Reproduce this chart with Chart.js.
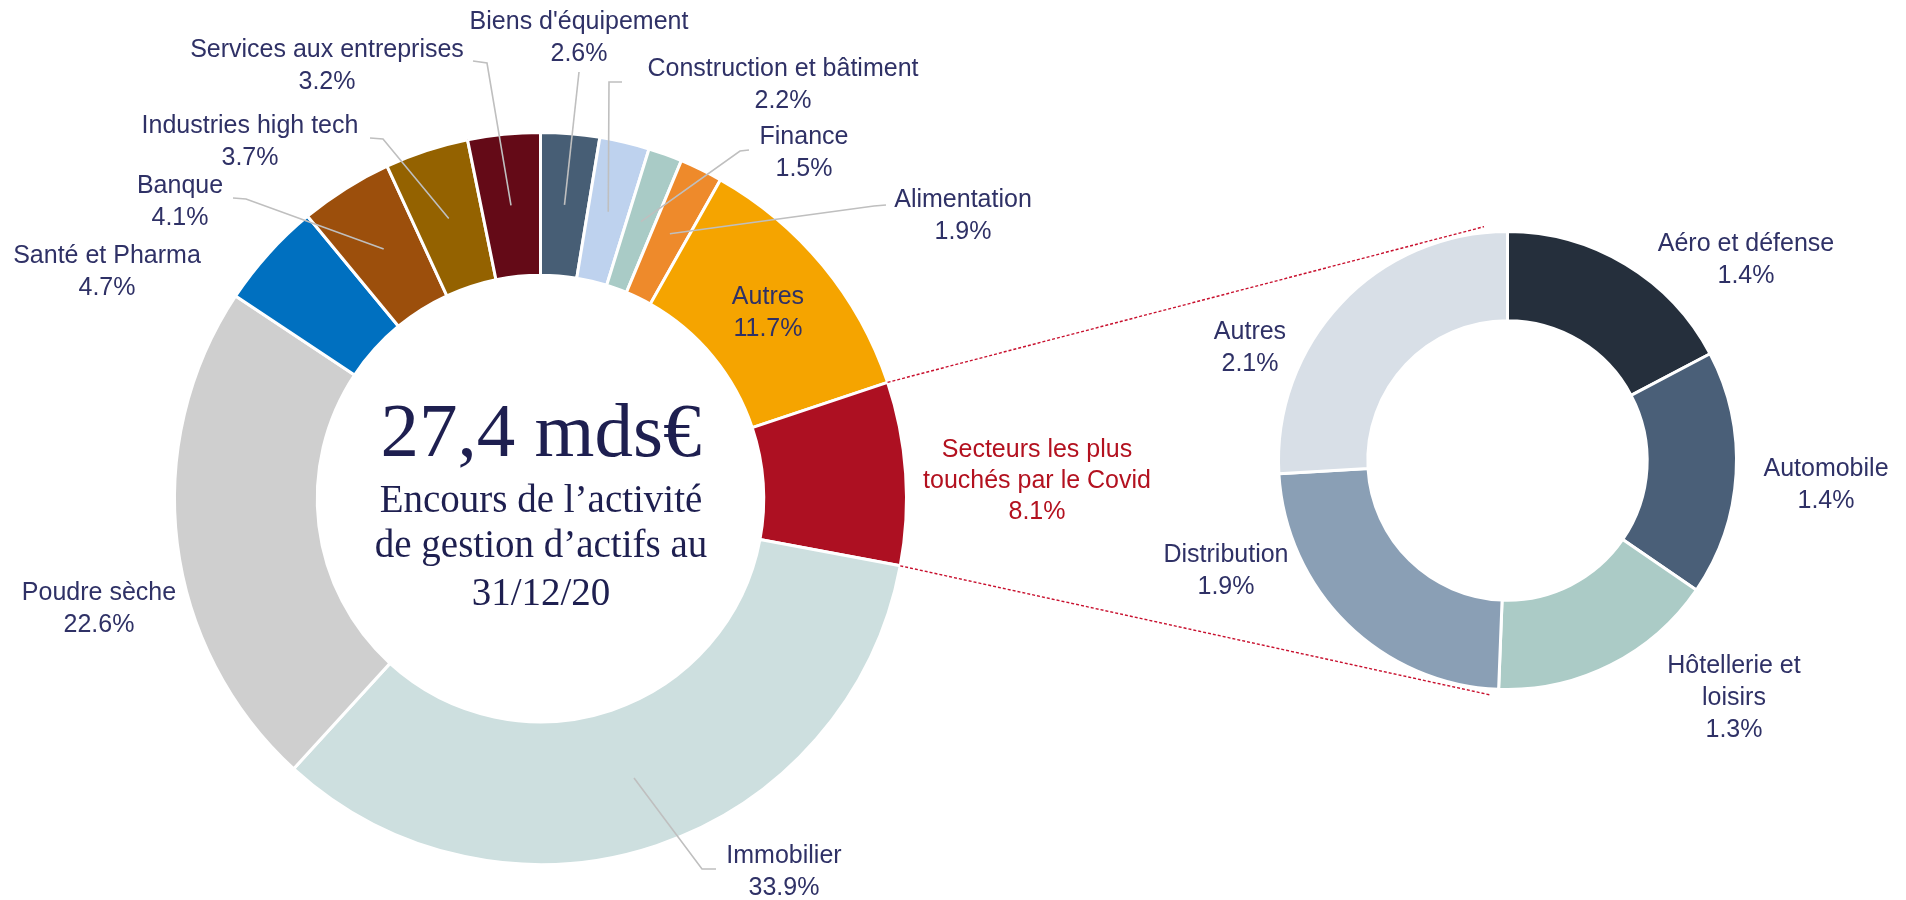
<!DOCTYPE html>
<html lang="fr">
<head>
  <meta charset="UTF-8">
  <title>Encours de l'activité de gestion d'actifs au 31/12/20</title>
  <script src="https://cdn.jsdelivr.net/npm/chart.js"></script>
  <style>
    html, body { margin: 0; padding: 0; background: #fff; }
    body {
      width: 1906px; height: 900px; position: relative; overflow: hidden;
      font-family: 'Liberation Sans', Arial, sans-serif;
    }
    canvas { position: absolute; left: 0; top: 0; }
    .lbl {
      position: absolute; transform: translateX(-50%); text-align: center;
      font-size: 25px; line-height: 32px; color: #2f3166; white-space: nowrap;
    }
    .lbl.wrap { white-space: normal; }
    .lbl.covid { color: #b3111f; line-height: 31px; }
    .center {
      position: absolute; left: 541px; transform: translateX(-50%);
      font-family: 'Liberation Serif', 'DejaVu Serif', serif; color: #1e1f50; white-space: nowrap;
    }
  </style>
</head>
<body>

  <canvas id="mainChart" width="1906" height="900"></canvas>
  <canvas id="zoomChart" width="1906" height="900"></canvas>
  <div id="labels"></div>

  <!-- texte central -->
  <div class="center" style="top:392px; font-size:77px; line-height:77px;">27,4 mds€</div>
  <div class="center" style="top:479px; font-size:39px; line-height:39px;">Encours de l’activité</div>
  <div class="center" style="top:524px; font-size:39px; line-height:39px;">de gestion d’actifs au</div>
  <div class="center" style="top:572px; font-size:39px; line-height:39px;">31/12/20</div>

  <script>
    // donut principal, sens horaire depuis midi
    const mainLabels = ["Biens d'équipement", "Construction et bâtiment", "Finance", "Alimentation", "Autres",
      "Secteurs les plus touchés par le Covid", "Immobilier", "Poudre sèche", "Santé et Pharma", "Banque",
      "Industries high tech", "Services aux entreprises"];
    const mainValues = [2.6, 2.2, 1.5, 1.9, 11.7, 8.1, 33.9, 22.6, 4.7, 4.1, 3.7, 3.2];
    const mainColors = ['#475e75', '#bed2ee', '#a9cbc6', '#ee8a2b', '#f5a400', '#ad1022',
      '#cddfdf', '#cfcfcf', '#0070c0', '#9c4f0c', '#946200', '#640a17'];

    // détail des secteurs les plus touchés
    const zoomLabels = ["Aéro et défense", "Automobile", "Hôtellerie et loisirs", "Distribution", "Autres"];
    const zoomValues = [1.4, 1.4, 1.3, 1.9, 2.1];
    const zoomColors = ['#252f3c', '#4a5f78', '#abcbc6', '#8a9fb5', '#d8dfe7'];

    const COVID = 5;

    // placement des étiquettes (x du centre, haut du bloc)
    const mainLabelPos = [
      { i: 0, x: 579, y: 4 }, { i: 1, x: 783, y: 51 }, { i: 2, x: 804, y: 119 },
      { i: 3, x: 963, y: 182 }, { i: 4, x: 768, y: 279 },
      { i: 5, x: 1037, y: 433, w: 262, cls: 'covid wrap' },
      { i: 6, x: 784, y: 838 }, { i: 7, x: 99, y: 575 }, { i: 8, x: 107, y: 238 },
      { i: 9, x: 180, y: 168 }, { i: 10, x: 250, y: 108 }, { i: 11, x: 327, y: 32 }
    ];
    const zoomLabelPos = [
      { i: 0, x: 1746, y: 226 }, { i: 1, x: 1826, y: 451 },
      { i: 2, x: 1734, y: 648, w: 150, cls: 'wrap' },
      { i: 3, x: 1226, y: 537 }, { i: 4, x: 1250, y: 314 }
    ];

    // lignes de rappel : points côté étiquette, puis centre de l'arc
    const leaders = [
      { i: 0, pts: [[579, 72]] },
      { i: 1, pts: [[622, 82], [609, 82]] },
      { i: 2, pts: [[749, 150], [740, 151]] },
      { i: 3, pts: [[886, 205], [874, 206]] },
      { i: 6, pts: [[716, 869], [702, 869]] },
      { i: 9, pts: [[233, 198], [246, 199]] },
      { i: 10, pts: [[370, 138], [383, 139]] },
      { i: 11, pts: [[473, 61], [487, 63]] }
    ];

    const fmt = v => v.toFixed(1) + '%';

    function addLabels(names, values, layout) {
      const box = document.getElementById('labels');
      layout.forEach(p => {
        const d = document.createElement('div');
        d.className = 'lbl' + (p.cls ? ' ' + p.cls : '');
        d.style.left = p.x + 'px';
        d.style.top = p.y + 'px';
        if (p.w) d.style.width = p.w + 'px';
        d.innerHTML = names[p.i] + '<br>' + fmt(values[p.i]);
        box.appendChild(d);
      });
    }

    const leaderPlugin = {
      id: 'leaders',
      afterDatasetsDraw(chart) {
        const ctx = chart.ctx;
        const arcs = chart.getDatasetMeta(0).data;
        ctx.save();
        ctx.strokeStyle = '#bfbfbf';
        ctx.lineWidth = 1.6;
        leaders.forEach(l => {
          const c = arcs[l.i].tooltipPosition();
          ctx.beginPath();
          ctx.moveTo(l.pts[0][0], l.pts[0][1]);
          l.pts.slice(1).forEach(p => ctx.lineTo(p[0], p[1]));
          ctx.lineTo(c.x, c.y);
          ctx.stroke();
        });
        ctx.restore();
      }
    };

    const baseOptions = {
      responsive: false,
      animation: false,
      cutout: '61%',
      rotation: 0,
      plugins: { legend: { display: false }, tooltip: { enabled: false } }
    };

    const mainChart = new Chart(document.getElementById('mainChart'), {
      type: 'doughnut',
      data: {
        labels: mainLabels,
        datasets: [{ data: mainValues, backgroundColor: mainColors, borderColor: '#ffffff', borderWidth: 3 }]
      },
      options: { ...baseOptions, layout: { padding: { left: 173, right: 998, top: 131, bottom: 34 } } },
      plugins: [leaderPlugin]
    });

    // pointillés rouges reliant le secteur Covid au donut de détail
    const connectorPlugin = {
      id: 'connector',
      afterDatasetsDraw(chart) {
        const src = mainChart.getDatasetMeta(0).data[COVID];
        const dst = chart.getDatasetMeta(0).data[0];
        const R = dst.outerRadius + 6;
        const ctx = chart.ctx;
        const ends = [
          [src.startAngle, -Math.PI / 2 - 0.1],
          [src.endAngle, Math.PI / 2 + 0.075]
        ];
        ctx.save();
        ctx.strokeStyle = '#c8102e';
        ctx.lineWidth = 1.4;
        ctx.setLineDash([3, 2]);
        ends.forEach(([a, b]) => {
          ctx.beginPath();
          ctx.moveTo(src.x + src.outerRadius * Math.cos(a), src.y + src.outerRadius * Math.sin(a));
          ctx.lineTo(dst.x + R * Math.cos(b), dst.y + R * Math.sin(b));
          ctx.stroke();
        });
        ctx.restore();
      }
    };

    const zoomChart = new Chart(document.getElementById('zoomChart'), {
      type: 'doughnut',
      data: {
        labels: zoomLabels,
        datasets: [{ data: zoomValues, backgroundColor: zoomColors, borderColor: '#ffffff', borderWidth: 3 }]
      },
      options: { ...baseOptions, layout: { padding: { left: 1277, right: 168, top: 230, bottom: 209 } } },
      plugins: [connectorPlugin]
    });

    addLabels(mainLabels, mainValues, mainLabelPos);
    addLabels(zoomLabels, zoomValues, zoomLabelPos);
  </script>
</body>
</html>
